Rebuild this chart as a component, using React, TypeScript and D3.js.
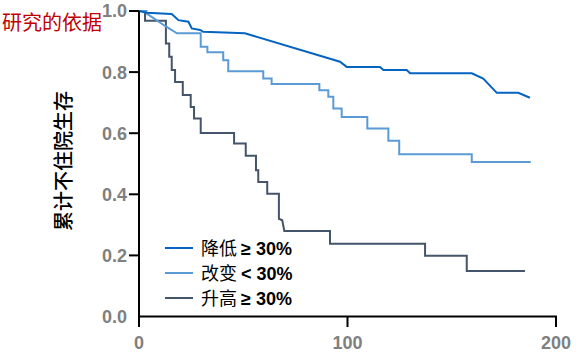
import React from "react";
import * as d3 from "d3";

const seriesNames = ["降低", "改变", "升高"];
const seriesOps = ["≥", "<", "≥"];
const seriesColors = ["#0563C1", "#5B9BD5", "#44546A"];

// [time, survival]
const decreaseData: [number, number][] = [
  [0, 1.0], [3.7, 0.994], [15.7, 0.99], [18.9, 0.97], [23.7, 0.965], [25.3, 0.943],
  [29.3, 0.938], [30.8, 0.932], [50.8, 0.927], [96.4, 0.834], [99.6, 0.817],
  [115.6, 0.817], [117.2, 0.807], [128.4, 0.807], [130, 0.796], [159.6, 0.796],
  [165.1, 0.779], [171.6, 0.732], [181.9, 0.732], [187.5, 0.716],
];

const changeData: [number, number][] = [
  [0, 1.0], [3.6, 1.0], [3.6, 0.992], [12.5, 0.951], [18.2, 0.927], [29.6, 0.927],
  [29.6, 0.883], [32.8, 0.883], [32.8, 0.865], [40.4, 0.865], [40.4, 0.839],
  [42.8, 0.839], [42.8, 0.803], [59.6, 0.803], [59.6, 0.779], [63.6, 0.779],
  [63.6, 0.761], [86.5, 0.761], [86.5, 0.741], [90.8, 0.741], [90.8, 0.719],
  [93.2, 0.719], [93.2, 0.681], [97.2, 0.681], [97.2, 0.653], [109.5, 0.653],
  [109.5, 0.615], [119.6, 0.615], [119.6, 0.575], [124.8, 0.575], [124.8, 0.531],
  [159.6, 0.531], [159.6, 0.506], [187.9, 0.506],
];

const increaseData: [number, number][] = [
  [0, 1.0], [2.9, 1.0], [2.9, 0.968], [12.9, 0.968], [12.9, 0.894], [14.5, 0.894],
  [14.5, 0.85], [15.7, 0.85], [15.7, 0.807], [17.3, 0.807], [17.3, 0.768],
  [21.0, 0.768], [21.0, 0.725], [24.8, 0.725], [24.8, 0.686], [26.4, 0.686],
  [26.4, 0.648], [29.6, 0.648], [29.6, 0.601], [45.6, 0.601], [45.6, 0.566],
  [51.2, 0.566], [51.2, 0.526], [56.1, 0.526], [56.1, 0.479], [57.2, 0.479],
  [57.2, 0.44], [61.5, 0.44], [61.5, 0.402], [67.1, 0.402], [67.1, 0.32],
  [68.7, 0.315], [69.7, 0.28], [91.6, 0.28], [91.6, 0.238], [137.2, 0.238],
  [137.2, 0.199], [157.2, 0.199], [157.2, 0.149], [185.1, 0.149],
];

const yTicks = [0, 0.2, 0.4, 0.6, 0.8, 1.0];
const xTicks = [0, 100, 200];
const yTitle = "累计不住院生存";
const chartTitle = "研究的依据";

export default function App() {
  const x = d3.scaleLinear().domain([0, 200]).range([139, 556]);
  const y = d3.scaleLinear().domain([0, 1]).range([316.5, 11]);
  const line = d3
    .line<[number, number]>()
    .x((d) => x(d[0]))
    .y((d) => y(d[1]))
    .curve(d3.curveLinear);
  const allData = [decreaseData, changeData, increaseData];
  const drawOrder = [2, 1, 0];
  const narrow = "'Liberation Sans Narrow', 'Arial Narrow', 'Liberation Sans', sans-serif";
  const latin = "'Liberation Sans', Arial, sans-serif";
  const cjk = "'Noto Sans CJK SC', sans-serif";

  return (
    <svg
      width={576}
      height={357}
      style={{ position: "absolute", left: 0, top: 0, background: "#fff" }}
    >
      <rect x={0} y={0} width={576} height={357} fill="#fff" />
      {drawOrder.map((i) => (
        <path
          key={i}
          d={line(allData[i]) || ""}
          fill="none"
          stroke={seriesColors[i]}
          strokeWidth={2}
          strokeLinejoin="miter"
        />
      ))}
      <line x1={x(0)} x2={x(0)} y1={y(1)} y2={327} stroke="#000" strokeWidth={2} />
      <line x1={x(0) - 1} x2={x(200) + 1} y1={y(0)} y2={y(0)} stroke="#000" strokeWidth={2} />
      {yTicks.map((t) => (
        <g key={t}>
          {t > 0 && (
            <line x1={x(0) - 10} x2={x(0)} y1={y(t)} y2={y(t)} stroke="#000" strokeWidth={2} />
          )}
          <text
            x={x(0) - 12}
            y={y(t)}
            dy="0.36em"
            textAnchor="end"
            fontFamily={narrow}
            fontWeight="bold"
            fontSize={18}
            fill="#808080"
          >
            {t.toFixed(1)}
          </text>
        </g>
      ))}
      {xTicks.map((t) => (
        <g key={t}>
          <line x1={x(t)} x2={x(t)} y1={y(0)} y2={327} stroke="#000" strokeWidth={2} />
          <text
            x={x(t)}
            y={349}
            textAnchor="middle"
            fontFamily={narrow}
            fontWeight="bold"
            fontSize={18}
            fill="#808080"
          >
            {t}
          </text>
        </g>
      ))}
      <text
        transform={`translate(71,161) rotate(-90)`}
        textAnchor="middle"
        fontFamily={cjk}
        fontSize={20}
        fontWeight={500}
        fill="#000"
      >
        {yTitle}
      </text>
      <text x={2} y={30} fontFamily={cjk} fontSize={20} fill="#C00000">
        {chartTitle}
      </text>
      {seriesNames.map((n, i) => {
        const ly = 248 + i * 25;
        return (
          <g key={n}>
            <line x1={165} x2={193} y1={ly} y2={ly} stroke={seriesColors[i]} strokeWidth={2} />
            <text x={201} y={ly + 7} fontSize={18} fill="#000" fontFamily={cjk}>
              {n}
              <tspan fontFamily={latin} fontWeight="bold" dx={4}>
                {seriesOps[i]} 30%
              </tspan>
            </text>
          </g>
        );
      })}
    </svg>
  );
}
